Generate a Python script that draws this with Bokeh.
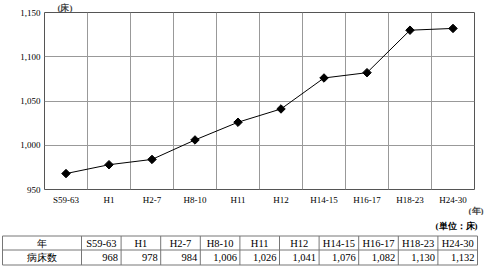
from math import pi
from bokeh.plotting import figure
from bokeh.layouts import column, row
from bokeh.models import Range1d, FixedTicker, NumeralTickFormatter, Title, ColumnDataSource
from bokeh.core.properties import value
from bokeh.embed import file_html
from bokeh.resources import INLINE

categories = ["S59-63", "H1", "H2-7", "H8-10", "H11", "H12", "H14-15", "H16-17", "H18-23", "H24-30"]
beds = [968, 978, 984, 1006, 1026, 1041, 1076, 1082, 1130, 1132]
y_ticks = [950, 1000, 1050, 1100, 1150]
y_unit = "(床)"
x_unit = "(年)"
table_unit = "(単位：床)"
row_headers = ["年", "病床数"]

SERIF = "Liberation Serif"

n = len(categories)
xs = [i + 0.5 for i in range(n)]

p = figure(width=489, height=215, output_backend="svg", toolbar_location=None,
           x_range=Range1d(0, n), y_range=Range1d(y_ticks[0], y_ticks[-1]),
           min_border_left=44, min_border_right=15, min_border_top=12, min_border_bottom=26)
p.title.visible = False
p.outline_line_color = "#555555"
p.background_fill_color = "white"

p.yaxis.ticker = FixedTicker(ticks=y_ticks)
p.yaxis.formatter = NumeralTickFormatter(format="0,0")
p.xaxis.ticker = FixedTicker(ticks=xs)
p.xaxis.major_label_overrides = {x: c for x, c in zip(xs, categories)}
for ax in (p.xaxis, p.yaxis):
    ax.axis_line_color = None
    ax.major_tick_line_color = None
    ax.minor_tick_line_color = None
    ax.major_tick_out = 0
    ax.major_tick_in = 0
    ax.major_label_text_font = SERIF
    ax.major_label_text_font_size = "9px"
    ax.major_label_text_color = "black"
p.yaxis.major_label_standoff = 4
p.xaxis.major_label_standoff = 5

p.xgrid.ticker = FixedTicker(ticks=list(range(1, n)))
p.xgrid.grid_line_color = "#999999"
p.ygrid.grid_line_color = "#999999"
p.ygrid.ticker = FixedTicker(ticks=y_ticks)

src = ColumnDataSource(dict(x=xs, y=beds))
p.line("x", "y", source=src, line_color="black", line_width=1)
p.scatter("x", "y", source=src, marker="square", angle=pi / 4, size=6, color="black")

p.add_layout(Title(text=y_unit, align="left", offset=13, standoff=0,
                   text_font=SERIF, text_font_size="9px", text_font_style="bold"), "above")
p.add_layout(Title(text=x_unit, align="right", offset=-9, standoff=-7,
                   text_font=SERIF, text_font_size="9px", text_font_style="bold"), "below")

# table figure
t = figure(width=489, height=58, output_backend="svg", toolbar_location=None,
           x_range=Range1d(0, 489), y_range=Range1d(58, 0),
           x_axis_location=None, y_axis_location=None,
           min_border=0, min_border_left=0, min_border_right=0,
           min_border_top=0, min_border_bottom=0)
t.title.visible = False
t.grid.visible = False
t.outline_line_color = None

left, first_w, right = 2, 79, 477
col_w = (right - left - first_w) / n
top, mid, bot = 20.5, 34.5, 49.5
bounds = [left, left + first_w] + [left + first_w + col_w * (i + 1) for i in range(n)]

t.segment(x0=[left] * 3, x1=[right] * 3, y0=[top, mid, bot], y1=[top, mid, bot],
          line_color="#777777", line_width=1)
t.segment(x0=bounds, x1=bounds, y0=[top] * len(bounds), y1=[bot] * len(bounds),
          line_color="#777777", line_width=1)

t.text(x=[right], y=[10], text=[table_unit], text_font=value(SERIF), text_font_size="9px",
       text_align="right", text_baseline="middle", text_font_style="bold")

first_c = left + first_w / 2
t.text(x=[first_c, first_c], y=[(top + mid) / 2, (mid + bot) / 2], text=row_headers,
       text_font=value(SERIF), text_font_size="10px", text_align="center",
       text_baseline="middle")

centers = [left + first_w + col_w * (i + 0.5) for i in range(n)]
t.text(x=centers, y=[(top + mid) / 2] * n, text=categories, text_font=value(SERIF),
       text_font_size="10.5px", text_align="center", text_baseline="middle")
rights = [left + first_w + col_w * (i + 1) - 3 for i in range(n)]
t.text(x=rights, y=[(mid + bot) / 2] * n, text=[f"{v:,}" for v in beds],
       text_font=value(SERIF), text_font_size="10.5px", text_align="right",
       text_baseline="middle")

layout = column(p, row(t), spacing=0)
open("out.html", "w").write(file_html(layout, INLINE))
